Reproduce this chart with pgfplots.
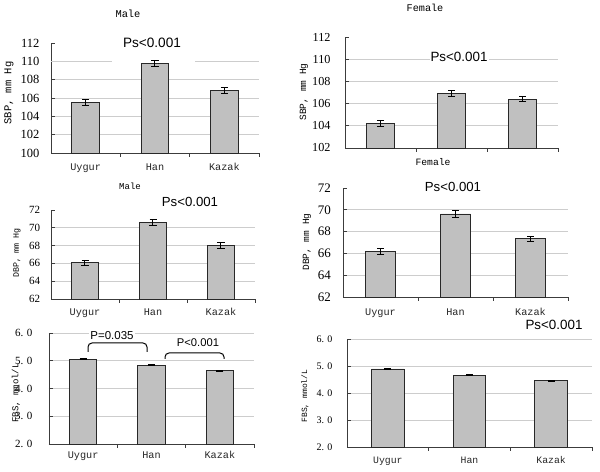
\documentclass[border=0pt]{standalone}
\usepackage{pgfplots}
\pgfplotsset{compat=1.18}
\usepackage{fontspec}
\setmainfont{Liberation Serif}
\newfontfamily\serf{Liberation Serif}
\newfontfamily\monof{Liberation Mono}
\newfontfamily\sansf{Liberation Sans}
\definecolor{barfill}{RGB}{192,192,192}
\definecolor{baredge}{RGB}{40,40,40}
\definecolor{gridc}{RGB}{205,205,205}
\definecolor{axc}{RGB}{60,60,60}
\newcommand{\fs}[1]{\fontsize{#1bp}{#1bp}\selectfont}
\pgfplotsset{
  panel/.style={
    scale only axis, clip=false, anchor=south west,
    axis x line*=bottom, axis y line*=left,
    axis line style={axc, line width=0.8bp},
    xmin=-0.5, xmax=2.5,
    xtick={0.5,1.5,2.5}, xticklabels={,,},
    extra x ticks={0,1,2}, extra x tick labels={Uygur,Han,Kazak},
    extra x tick style={major tick length=0pt},
    xticklabel style={font=\monof\fs{10.2}, anchor=base, text=black!85},
    tick align=inside, major tick length=4bp,
    tick style={axc, line width=0.6bp},
    ymajorgrids, grid style={gridc, line width=0.9bp},
    extra y tick style={grid=none},
    ybar, bar width=0.4,
  },
  bars/.style={fill=barfill, draw=baredge, line width=0.8bp,
    error bars/.cd, y dir=both, y explicit,
    error bar style={black, line width=1bp},
    error mark=-,
    error mark options={black, line width=1bp, mark size=3.5bp, rotate=90}},
}
\begin{document}
\begin{tikzpicture}
\path (0bp,0bp) rectangle (600bp,470bp);

% ---------- Male SBP ----------
\begin{axis}[panel, at={(51bp,317bp)}, width=208bp, height=110bp,
  ymin=100, ymax=112, ytick={100,102,...,108}, yticklabels={100,102,104,106,108},
  extra y ticks={110,112}, extra y tick labels={110,112},
  yticklabel style={font=\serf\fs{12.5}, xshift=-8bp},
  xticklabel style={yshift=-18bp}]
\draw[gridc, line width=0.9bp] (axis cs:-0.5,110) -- (axis cs:0.38,110);
\draw[gridc, line width=0.9bp] (axis cs:1.58,110) -- (axis cs:2.5,110);
\addplot[bars] coordinates {(0,105.5) +- (0,0.33) (1,109.75) +- (0,0.33) (2,106.8) +- (0,0.33)};
\end{axis}

% ---------- Female SBP ----------
\begin{axis}[panel, at={(345bp,322bp)}, width=213bp, height=111bp,
  ymin=102, ymax=112, ytick={102,104,...,110}, yticklabels={102,104,106,108,110},
  extra y ticks={112}, extra y tick labels={112},
  yticklabel style={font=\serf\fs{12.2}, xshift=-11bp},
  extra x tick labels={,,}]
\addplot[bars] coordinates {(0,104.22) +- (0,0.26) (1,106.9) +- (0,0.3) (2,106.4) +- (0,0.25)};
\end{axis}

% ---------- Male DBP ----------
\begin{axis}[panel, at={(51bp,171bp)}, width=204bp, height=89bp,
  ymin=62, ymax=72, ytick={62,64,...,70}, yticklabels={62,64,66,68,70},
  extra y ticks={72}, extra y tick labels={72},
  yticklabel style={font=\serf\fs{11}, xshift=-7.3bp},
  xticklabel style={yshift=-17bp}]
\addplot[bars] coordinates {(0,66.08) +- (0,0.3) (1,70.6) +- (0,0.3) (2,68.02) +- (0,0.3)};
\end{axis}

% ---------- Female DBP ----------
\begin{axis}[panel, at={(343bp,173bp)}, width=225bp, height=109bp,
  ymin=62, ymax=72, ytick={62,64,...,70}, yticklabels={62,64,66,68,70},
  extra y ticks={72}, extra y tick labels={72},
  yticklabel style={font=\serf\fs{13}, xshift=-8.7bp},
  xticklabel style={yshift=-19bp}]
\addplot[bars] coordinates {(0,66.2) +- (0,0.28) (1,69.62) +- (0,0.3) (2,67.35) +- (0,0.24)};
\end{axis}

% ---------- Male FBS ----------
\begin{axis}[panel, at={(49bp,26bp)}, width=205bp, height=111bp,
  ymin=2, ymax=6, ytick={2,3,4,5,6}, yticklabels={2. 0,3. 0,4. 0,5. 0,6. 0},
  yticklabel style={font=\serf\fs{11}, xshift=-13bp},
  xticklabel style={yshift=-15bp}]
\addplot[bars] coordinates {(0,5.06) +- (0,0.025) (1,4.845) +- (0,0.025) (2,4.64) +- (0,0.025)};
\end{axis}

% ---------- Female FBS ----------
\begin{axis}[panel, at={(347bp,23bp)}, width=245bp, height=108bp,
  ymin=2, ymax=6, ytick={2,3,4,5,6}, yticklabels={2. 0,3. 0,4. 0,5. 0,6. 0},
  yticklabel style={font=\serf\fs{10}, xshift=-11bp},
  xticklabel style={yshift=-17bp, font=\monof\fs{9.8}}]
\addplot[bars] coordinates {(0,4.89) +- (0,0.025) (1,4.66) +- (0,0.025) (2,4.45) +- (0,0.025)};
\end{axis}

% ---------- titles ----------
\node[font=\monof\fs{10.4}] at (128bp,456bp) {Male};
\node[font=\monof\fs{10.2}] at (425bp,462bp) {Female};
\node[font=\monof\fs{9}] at (130bp,284bp) {Male};
\node[font=\monof\fs{9.7}] at (433bp,308bp) {Female};

% ---------- y labels ----------
\node[font=\monof\fs{10.5}, rotate=90] at (9bp,377bp) {SBP, mm Hg};
\node[font=\monof\fs{9.5}, rotate=90] at (304bp,378bp) {SBP, mm Hg};
\node[font=\monof\fs{8.3}, rotate=90] at (17bp,217bp) {DBP, mm Hg};
\node[font=\monof\fs{9.5}, rotate=90] at (307bp,228bp) {DBP, mm Hg};
\node[font=\monof\fs{9}, rotate=90] at (16bp,77bp) {FBS, mmol/L};
\node[font=\monof\fs{8}, rotate=90] at (305bp,74bp) {FBS, mmol/L};

% ---------- P values ----------
\node[font=\sansf\fs{13.6}] at (152bp,427bp) {Ps<0.001};
\node[font=\sansf\fs{13.4}, fill=white, inner sep=1bp] at (459bp,413bp) {Ps<0.001};
\node[font=\sansf\fs{13.2}] at (190bp,268bp) {Ps<0.001};
\node[font=\sansf\fs{13.2}] at (453bp,283bp) {Ps<0.001};
\node[font=\sansf\fs{13.4}, fill=white, inner sep=1bp] at (554bp,145bp) {Ps<0.001};
\node[font=\sansf\fs{11.5}, fill=white, inner sep=1bp] at (112bp,134bp) {P=0.035};
\node[font=\sansf\fs{11.2}] at (198bp,127bp) {P<0.001};
\draw[black, line width=1bp, rounded corners=4bp] (88bp,118bp) -- (88bp,127bp) -- (147bp,127bp) -- (147bp,118bp);
\draw[black, line width=1bp, rounded corners=4bp] (165bp,111bp) -- (165bp,117bp) -- (224bp,117bp) -- (224bp,111bp);
\end{tikzpicture}
\end{document}
